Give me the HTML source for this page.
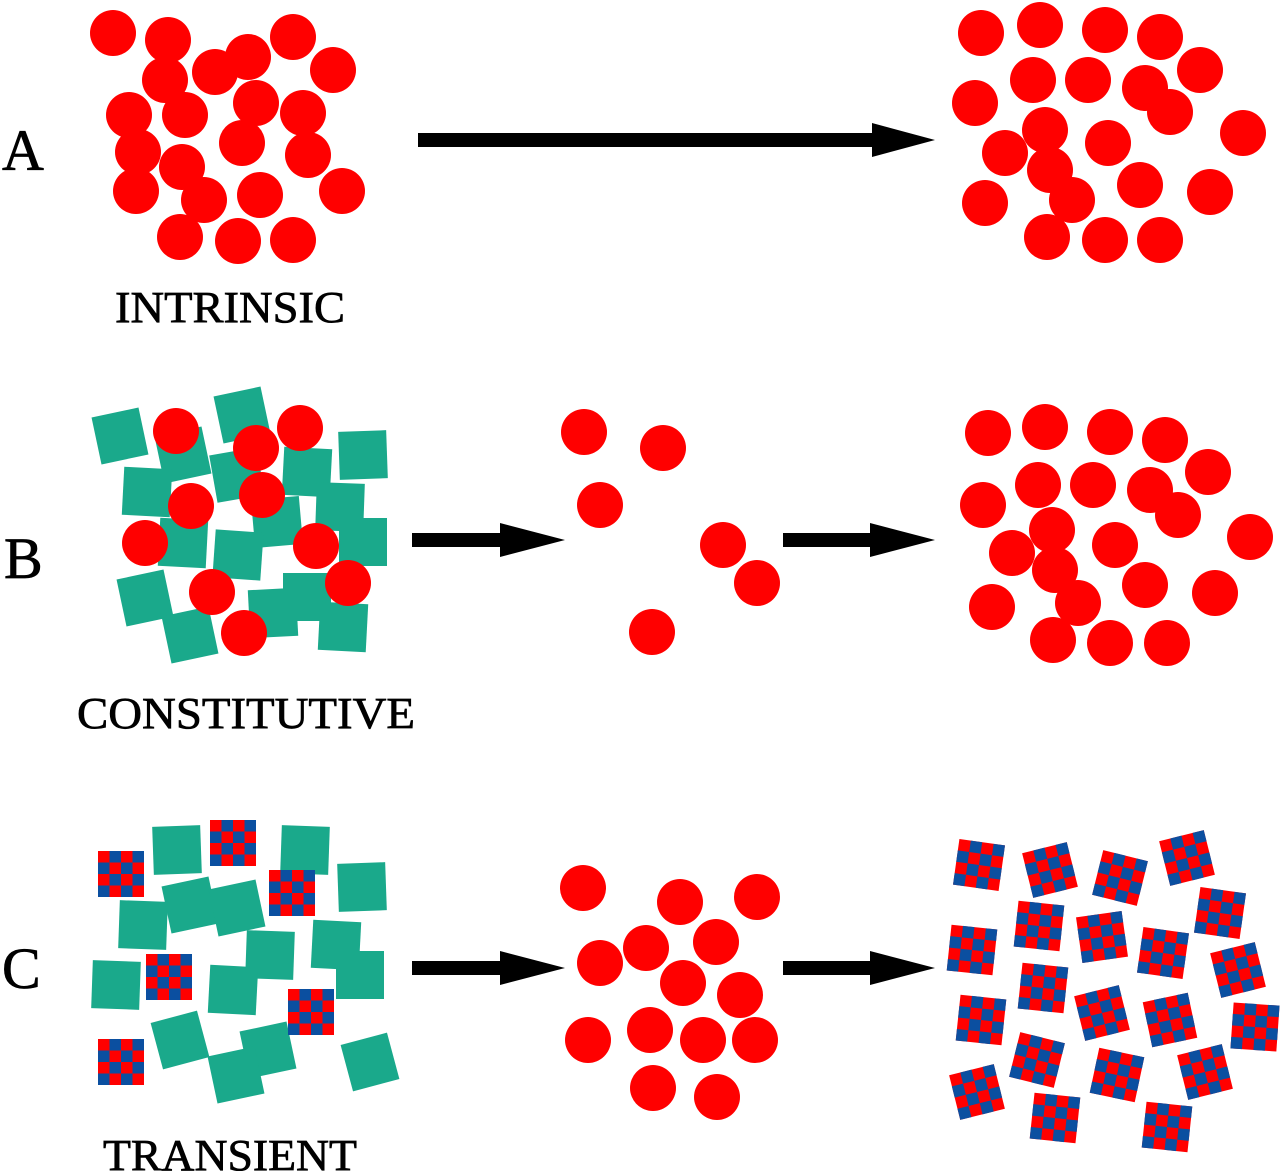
<!DOCTYPE html>
<html><head><style>
html,body{margin:0;padding:0;background:#fff;}
svg{display:block;}
text{font-family:"Liberation Serif",serif;fill:#000;stroke:#000;stroke-width:0.7;}
</style></head><body>
<svg width="1280" height="1171" viewBox="0 0 1280 1171" xmlns="http://www.w3.org/2000/svg">
<defs>
<g id="ck">
<rect x="-23" y="-23" width="46" height="46" fill="#ff0000"/>
<g fill="#0b4fa0">
<rect x="-11.5" y="-23" width="11.5" height="11.5"/><rect x="11.5" y="-23" width="11.5" height="11.5"/>
<rect x="-23" y="-11.5" width="11.5" height="11.5"/><rect x="0" y="-11.5" width="11.5" height="11.5"/>
<rect x="-11.5" y="0" width="11.5" height="11.5"/><rect x="11.5" y="0" width="11.5" height="11.5"/>
<rect x="-23" y="11.5" width="11.5" height="11.5"/><rect x="0" y="11.5" width="11.5" height="11.5"/>
</g>
</g>
<rect id="tl" x="-24" y="-24" width="48" height="48" fill="#1aa98b"/>
</defs>

<!-- Labels -->
<text x="2" y="170" font-size="58">A</text>
<text x="4" y="578" font-size="58">B</text>
<text x="2" y="988" font-size="58">C</text>
<text x="230" y="322" font-size="44" text-anchor="middle" textLength="230" lengthAdjust="spacingAndGlyphs">INTRINSIC</text>
<text x="246" y="728" font-size="44" text-anchor="middle" textLength="338" lengthAdjust="spacingAndGlyphs">CONSTITUTIVE</text>
<text x="230" y="1170" font-size="44" text-anchor="middle" textLength="254" lengthAdjust="spacingAndGlyphs">TRANSIENT</text>

<!-- Arrows -->
<g fill="#000">
<rect x="418" y="133" width="460" height="14"/><polygon points="872,123 935,140 872,157"/>
<rect x="412" y="533" width="100" height="14"/><polygon points="500,523 565,540 500,557"/>
<rect x="783" y="533" width="100" height="14"/><polygon points="870,523 935,540 870,557"/>
<rect x="412" y="961" width="100" height="14"/><polygon points="500,951 565,968 500,985"/>
<rect x="783" y="961" width="100" height="14"/><polygon points="870,951 935,968 870,985"/>
</g>

<g fill="#ff0000">
<circle cx="113" cy="33" r="23"/><circle cx="168" cy="40" r="23"/><circle cx="248" cy="57" r="23"/><circle cx="293" cy="37" r="23"/>
<circle cx="165" cy="80" r="23"/><circle cx="215" cy="72" r="23"/><circle cx="333" cy="70" r="23"/><circle cx="129" cy="115" r="23"/>
<circle cx="185" cy="115" r="23"/><circle cx="256" cy="103" r="23"/><circle cx="303" cy="113" r="23"/><circle cx="138" cy="152" r="23"/>
<circle cx="242" cy="143" r="23"/><circle cx="308" cy="155" r="23"/><circle cx="182" cy="167" r="23"/><circle cx="136" cy="191" r="23"/>
<circle cx="204" cy="200" r="23"/><circle cx="260" cy="195" r="23"/><circle cx="342" cy="191" r="23"/><circle cx="180" cy="237" r="23"/>
<circle cx="238" cy="241" r="23"/><circle cx="293" cy="240" r="23"/>
<circle cx="981" cy="33" r="23"/><circle cx="1040" cy="25" r="23"/><circle cx="1105" cy="30" r="23"/><circle cx="1160" cy="37" r="23"/>
<circle cx="1200" cy="70" r="23"/><circle cx="1033" cy="80" r="23"/><circle cx="1088" cy="80" r="23"/><circle cx="1145" cy="88" r="23"/>
<circle cx="975" cy="103" r="23"/><circle cx="1170" cy="112" r="23"/><circle cx="1243" cy="133" r="23"/><circle cx="1045" cy="130" r="23"/>
<circle cx="1005" cy="153" r="23"/><circle cx="1108" cy="143" r="23"/><circle cx="1050" cy="170" r="23"/><circle cx="1140" cy="185" r="23"/>
<circle cx="1210" cy="192" r="23"/><circle cx="985" cy="203" r="23"/><circle cx="1072" cy="200" r="23"/><circle cx="1047" cy="237" r="23"/>
<circle cx="1105" cy="240" r="23"/><circle cx="1160" cy="240" r="23"/>
</g>

<use href="#tl" transform="translate(120,436) rotate(-12)"/>
<use href="#tl" transform="translate(183,455) rotate(-12)"/>
<use href="#tl" transform="translate(242,415) rotate(-12)"/>
<use href="#tl" transform="translate(237,475) rotate(-10)"/>
<use href="#tl" transform="translate(147,492) rotate(3)"/>
<use href="#tl" transform="translate(307,472) rotate(3)"/>
<use href="#tl" transform="translate(363,455) rotate(-2)"/>
<use href="#tl" transform="translate(183,543) rotate(3)"/>
<use href="#tl" transform="translate(277,522) rotate(-5)"/>
<use href="#tl" transform="translate(340,507) rotate(2)"/>
<use href="#tl" transform="translate(363,542) rotate(0)"/>
<use href="#tl" transform="translate(238,555) rotate(4)"/>
<use href="#tl" transform="translate(145,598) rotate(-12)"/>
<use href="#tl" transform="translate(190,635) rotate(-12)"/>
<use href="#tl" transform="translate(273,613) rotate(-3)"/>
<use href="#tl" transform="translate(307,597) rotate(0)"/>
<use href="#tl" transform="translate(343,627) rotate(3)"/>

<g fill="#ff0000">
<circle cx="176" cy="431" r="23"/><circle cx="256" cy="448" r="23"/><circle cx="300" cy="428" r="23"/><circle cx="191" cy="506" r="23"/>
<circle cx="262" cy="495" r="23"/><circle cx="145" cy="543" r="23"/><circle cx="316" cy="546" r="23"/><circle cx="212" cy="592" r="23"/>
<circle cx="348" cy="583" r="23"/><circle cx="244" cy="633" r="23"/>
<circle cx="584" cy="432" r="23"/><circle cx="663" cy="448" r="23"/><circle cx="600" cy="505" r="23"/><circle cx="723" cy="545" r="23"/>
<circle cx="757" cy="583" r="23"/><circle cx="652" cy="632" r="23"/>
<circle cx="988" cy="433" r="23"/><circle cx="1045" cy="427" r="23"/><circle cx="1110" cy="432" r="23"/><circle cx="1165" cy="440" r="23"/>
<circle cx="1208" cy="472" r="23"/><circle cx="983" cy="505" r="23"/><circle cx="1038" cy="485" r="23"/><circle cx="1093" cy="485" r="23"/>
<circle cx="1150" cy="490" r="23"/><circle cx="1178" cy="515" r="23"/><circle cx="1250" cy="537" r="23"/><circle cx="1052" cy="530" r="23"/>
<circle cx="1012" cy="553" r="23"/><circle cx="1115" cy="545" r="23"/><circle cx="1055" cy="570" r="23"/><circle cx="1145" cy="585" r="23"/>
<circle cx="1215" cy="593" r="23"/><circle cx="992" cy="607" r="23"/><circle cx="1078" cy="603" r="23"/><circle cx="1053" cy="640" r="23"/>
<circle cx="1110" cy="643" r="23"/><circle cx="1167" cy="643" r="23"/>
<circle cx="583" cy="888" r="23"/><circle cx="680" cy="902" r="23"/><circle cx="757" cy="897" r="23"/><circle cx="646" cy="948" r="23"/>
<circle cx="716" cy="942" r="23"/><circle cx="600" cy="963" r="23"/><circle cx="683" cy="983" r="23"/><circle cx="740" cy="995" r="23"/>
<circle cx="588" cy="1040" r="23"/><circle cx="650" cy="1030" r="23"/><circle cx="703" cy="1040" r="23"/><circle cx="755" cy="1040" r="23"/>
<circle cx="653" cy="1088" r="23"/><circle cx="717" cy="1097" r="23"/>
</g>

<use href="#tl" transform="translate(177,850) rotate(-2)"/>
<use href="#tl" transform="translate(305,850) rotate(2)"/>
<use href="#tl" transform="translate(362,887) rotate(-2)"/>
<use href="#tl" transform="translate(143,925) rotate(2)"/>
<use href="#tl" transform="translate(190,905) rotate(-12)"/>
<use href="#tl" transform="translate(237,908) rotate(-12)"/>
<use href="#tl" transform="translate(270,955) rotate(2)"/>
<use href="#tl" transform="translate(336,945) rotate(3)"/>
<use href="#tl" transform="translate(360,975) rotate(0)"/>
<use href="#tl" transform="translate(116,985) rotate(2)"/>
<use href="#tl" transform="translate(233,990) rotate(3)"/>
<use href="#tl" transform="translate(180,1040) rotate(-15)"/>
<use href="#tl" transform="translate(268,1050) rotate(-12)"/>
<use href="#tl" transform="translate(236,1075) rotate(-12)"/>
<use href="#tl" transform="translate(370,1062) rotate(-15)"/>
<use href="#ck" transform="translate(121,874)"/>
<use href="#ck" transform="translate(233,843)"/>
<use href="#ck" transform="translate(292,893)"/>
<use href="#ck" transform="translate(169,977)"/>
<use href="#ck" transform="translate(311,1012)"/>
<use href="#ck" transform="translate(121,1062)"/>
<use href="#ck" transform="translate(979,865) rotate(8)"/>
<use href="#ck" transform="translate(1050,870) rotate(-14)"/>
<use href="#ck" transform="translate(1120,878) rotate(14)"/>
<use href="#ck" transform="translate(1187,858) rotate(-14)"/>
<use href="#ck" transform="translate(1220,913) rotate(8)"/>
<use href="#ck" transform="translate(1039,926) rotate(6)"/>
<use href="#ck" transform="translate(1102,937) rotate(-8)"/>
<use href="#ck" transform="translate(1163,953) rotate(8)"/>
<use href="#ck" transform="translate(972,950) rotate(6)"/>
<use href="#ck" transform="translate(1238,970) rotate(-14)"/>
<use href="#ck" transform="translate(1043,988) rotate(6)"/>
<use href="#ck" transform="translate(1102,1013) rotate(-14)"/>
<use href="#ck" transform="translate(1170,1020) rotate(-12)"/>
<use href="#ck" transform="translate(1255,1027) rotate(4)"/>
<use href="#ck" transform="translate(981,1020) rotate(6)"/>
<use href="#ck" transform="translate(1037,1060) rotate(14)"/>
<use href="#ck" transform="translate(1117,1075) rotate(12)"/>
<use href="#ck" transform="translate(1205,1072) rotate(-14)"/>
<use href="#ck" transform="translate(977,1092) rotate(-14)"/>
<use href="#ck" transform="translate(1055,1118) rotate(6)"/>
<use href="#ck" transform="translate(1167,1127) rotate(6)"/>
</svg>
</body></html>
